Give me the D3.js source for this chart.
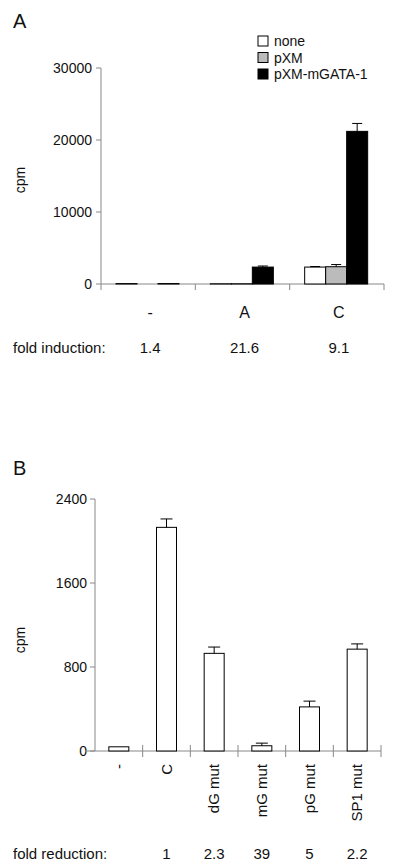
<!DOCTYPE html>
<html><head><meta charset="utf-8">
<script src="https://cdn.jsdelivr.net/npm/d3@7"></script>
<style>body{margin:0;background:#fff}text{font-family:Arial,"Liberation Sans",sans-serif;fill:#111}</style>
</head><body>
<script>
// Panel A data
const groupsA = ['-', 'A', 'C'];
const seriesA = ['none', 'pXM', 'pXM-mGATA-1'];
const colorsA = ['#fff', '#bbb', '#000'];
const valuesA = [[60, 0, 60], [30, 30, 2350], [2350, 2400, 21200]];
const errorsA = [[0, 0, 0], [0, 0, 150], [80, 300, 1100]];
const foldInduction = ['1.4', '21.6', '9.1'];
const ticksA = [0, 10000, 20000, 30000];
// Panel B data
const catsB = ['-', 'C', 'dG mut', 'mG mut', 'pG mut', 'SP1 mut'];
const valuesB = [40, 2130, 930, 50, 420, 970];
const errorsB = [0, 80, 60, 25, 55, 50];
const foldReduction = ['', '1', '2.3', '39', '5', '2.2'];
const ticksB = [0, 800, 1600, 2400];

const svg = d3.select('body').append('svg').attr('width', 400).attr('height', 866);

// ---- Panel A
svg.append('text').attr('x', 13).attr('y', 28).attr('font-size', 20).text('A');
const xA = d3.scaleBand().domain(groupsA).range([101, 384]);
const yA = d3.scaleLinear().domain([0, 30000]).range([284, 68]);
const gA = svg.append('g');
gA.append('line').attr('x1', 101).attr('x2', 101).attr('y1', 68).attr('y2', 284).attr('stroke', '#888');
ticksA.forEach(t => {
  gA.append('line').attr('x1', 96).attr('x2', 101).attr('y1', yA(t)).attr('y2', yA(t)).attr('stroke', '#888');
  gA.append('text').attr('x', 92).attr('y', yA(t) + 5).attr('text-anchor', 'end').attr('font-size', 14).text(t);
});
gA.append('line').attr('x1', 101).attr('x2', 384).attr('y1', 284).attr('y2', 284).attr('stroke', '#888');
[101, 384].concat(groupsA.slice(1).map(g => xA(g))).forEach(x =>
  gA.append('line').attr('x1', x).attr('x2', x).attr('y1', 284).attr('y2', 290).attr('stroke', '#888'));
const bw = 21;
groupsA.forEach((g, gi) => {
  seriesA.forEach((s, si) => {
    const v = valuesA[gi][si];
    if (!v) return;
    const x = xA(g) + 15 + si * bw;
    gA.append('rect').attr('x', x).attr('y', yA(v)).attr('width', bw).attr('height', 284 - yA(v))
      .attr('fill', colorsA[si]).attr('stroke', '#000').attr('stroke-width', 1);
    const e = errorsA[gi][si];
    if (e) {
      const cx = x + bw / 2;
      gA.append('line').attr('x1', cx).attr('x2', cx).attr('y1', yA(v)).attr('y2', yA(v + e)).attr('stroke', '#000');
      gA.append('line').attr('x1', cx - 5).attr('x2', cx + 5).attr('y1', yA(v + e)).attr('y2', yA(v + e)).attr('stroke', '#000');
    }
  });
  const cx = xA(g) + xA.bandwidth() / 2 + 2;
  gA.append('text').attr('x', cx).attr('y', 318).attr('text-anchor', 'middle').attr('font-size', 16).text(g);
  gA.append('text').attr('x', cx).attr('y', 353).attr('text-anchor', 'middle').attr('font-size', 15).text(foldInduction[gi]);
});
svg.append('text').attr('x', 13).attr('y', 353).attr('font-size', 15).text('fold induction:');
svg.append('text').attr('transform', 'translate(25,180) rotate(-90)').attr('text-anchor', 'middle').attr('font-size', 14).text('cpm');
seriesA.forEach((s, i) => {
  svg.append('rect').attr('x', 258).attr('y', 36 + i * 16.5).attr('width', 10).attr('height', 10)
    .attr('fill', colorsA[i]).attr('stroke', '#000');
  svg.append('text').attr('x', 274).attr('y', 46 + i * 16.5).attr('font-size', 14).text(s);
});

// ---- Panel B
svg.append('text').attr('x', 13).attr('y', 475).attr('font-size', 20).text('B');
const xB = d3.scaleBand().domain(catsB).range([95, 381]);
const yB = d3.scaleLinear().domain([0, 2400]).range([751, 499]);
const gB = svg.append('g');
gB.append('line').attr('x1', 95).attr('x2', 95).attr('y1', 499).attr('y2', 751).attr('stroke', '#888');
ticksB.forEach(t => {
  gB.append('line').attr('x1', 90).attr('x2', 95).attr('y1', yB(t)).attr('y2', yB(t)).attr('stroke', '#888');
  gB.append('text').attr('x', 87).attr('y', yB(t) + 5).attr('text-anchor', 'end').attr('font-size', 14).text(t);
});
gB.append('line').attr('x1', 85).attr('x2', 381).attr('y1', 751).attr('y2', 751).attr('stroke', '#888');
catsB.slice(1).map(c => xB(c)).concat([381]).forEach(x =>
  gB.append('line').attr('x1', x).attr('x2', x).attr('y1', 745).attr('y2', 757).attr('stroke', '#888'));
catsB.forEach((c, i) => {
  const cx = xB(c) + xB.bandwidth() / 2;
  const v = valuesB[i], e = errorsB[i];
  gB.append('rect').attr('x', cx - 10).attr('y', yB(v)).attr('width', 20).attr('height', 751 - yB(v))
    .attr('fill', '#fff').attr('stroke', '#000');
  if (e) {
    gB.append('line').attr('x1', cx).attr('x2', cx).attr('y1', yB(v)).attr('y2', yB(v + e)).attr('stroke', '#000');
    gB.append('line').attr('x1', cx - 6).attr('x2', cx + 6).attr('y1', yB(v + e)).attr('y2', yB(v + e)).attr('stroke', '#000');
  }
  gB.append('text').attr('transform', `translate(${cx + 5},764) rotate(-90)`).attr('text-anchor', 'end')
    .attr('font-size', 15).text(c);
  gB.append('text').attr('x', cx).attr('y', 859).attr('text-anchor', 'middle').attr('font-size', 15).text(foldReduction[i]);
});
svg.append('text').attr('x', 13).attr('y', 859).attr('font-size', 15).text('fold reduction:');
svg.append('text').attr('transform', 'translate(25,640) rotate(-90)').attr('text-anchor', 'middle').attr('font-size', 14).text('cpm');
</script>
</body></html>
